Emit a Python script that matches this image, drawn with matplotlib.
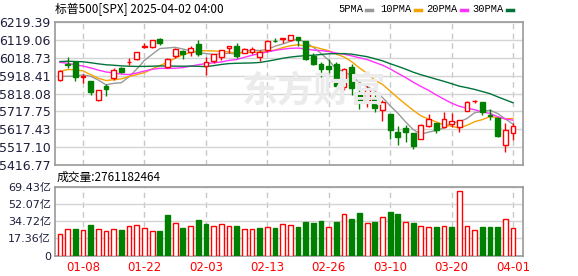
import numpy as np
import pandas as pd
import matplotlib
matplotlib.use("Agg")
import matplotlib.pyplot as plt

# trading days shown (Jan 3 .. Apr 1 2025)
dates = ["01-03", "01-06", "01-07", "01-08", "01-10", "01-13", "01-14", "01-15", "01-16", "01-17",
         "01-21", "01-22", "01-23", "01-24", "01-27", "01-28", "01-29", "01-30", "01-31", "02-03",
         "02-04", "02-05", "02-06", "02-07", "02-10", "02-11", "02-12", "02-13", "02-14", "02-18",
         "02-19", "02-20", "02-21", "02-24", "02-25", "02-26", "02-27", "02-28", "03-03", "03-04",
         "03-05", "03-06", "03-07", "03-10", "03-11", "03-12", "03-13", "03-14", "03-17", "03-18",
         "03-19", "03-20", "03-21", "03-24", "03-25", "03-26", "03-27", "03-28", "03-31", "04-01"]

open_ = [5891.07, 5982.81, 5993.26, 5910.66, 5890.66, 5782.52, 5859.40, 5905.21, 5961.24, 5995.00,
         6014.12, 6081.39, 6076.32, 6121.43, 5969.04, 6026.97, 6057.70, 6050.75, 6096.79, 5969.65,
         5998.14, 6020.45, 6072.22, 6083.13, 6046.40, 6049.32, 6025.08, 6060.62, 6115.52, 6121.60,
         6117.76, 6134.50, 6114.10, 6026.69, 5982.73, 5970.87, 5981.88, 5856.74, 5968.33, 5811.98,
         5781.88, 5785.87, 5726.01, 5705.37, 5603.65, 5624.84, 5594.45, 5563.85, 5635.60, 5654.53,
         5632.37, 5646.92, 5630.73, 5718.08, 5775.36, 5771.66, 5695.64, 5679.84, 5527.91, 5597.53]
high = [5949.34, 6021.04, 6000.68, 5927.89, 5890.66, 5837.47, 5871.92, 5960.61, 5964.69, 6014.96,
        6051.51, 6100.81, 6118.73, 6128.18, 6017.17, 6074.54, 6062.83, 6086.64, 6120.91, 6022.13,
        6042.48, 6062.86, 6084.03, 6101.28, 6073.38, 6076.28, 6063.36, 6116.91, 6127.47, 6129.63,
        6147.43, 6134.50, 6114.82, 6043.65, 5992.65, 6009.82, 5993.69, 5959.40, 5986.09, 5865.08,
        5860.59, 5812.08, 5783.01, 5705.37, 5636.30, 5642.19, 5597.78, 5645.27, 5703.52, 5654.53,
        5715.33, 5711.15, 5670.84, 5775.14, 5783.42, 5772.37, 5732.86, 5685.89, 5651.20, 5650.57]
low = [5888.66, 5960.01, 5890.68, 5874.78, 5809.47, 5773.31, 5805.48, 5894.84, 5930.99, 5978.44,
       6006.88, 6076.13, 6074.67, 6088.74, 5962.92, 6015.55, 6012.96, 6027.46, 6030.93, 5923.93,
       5990.87, 6007.06, 6046.83, 6017.79, 6044.84, 6042.34, 6003.00, 6050.95, 6107.62, 6099.51,
       6111.15, 6084.59, 6008.56, 5977.83, 5908.49, 5932.69, 5858.78, 5837.66, 5810.91, 5732.59,
       5742.35, 5711.64, 5666.29, 5564.02, 5528.41, 5546.09, 5504.65, 5563.85, 5631.12, 5597.76,
       5622.20, 5632.57, 5603.10, 5718.08, 5765.52, 5699.12, 5670.34, 5572.42, 5488.73, 5558.52]
close = [5942.47, 5975.38, 5909.03, 5918.25, 5827.04, 5836.22, 5842.91, 5949.91, 5937.34, 5996.66,
         6049.24, 6086.37, 6118.71, 6101.24, 6012.28, 6067.70, 6039.31, 6071.17, 6040.53, 5994.57,
         6037.88, 6061.48, 6083.57, 6025.99, 6066.44, 6068.50, 6051.97, 6115.07, 6114.63, 6129.58,
         6144.15, 6117.52, 6013.13, 5983.25, 5955.25, 5956.06, 5861.57, 5954.50, 5849.72, 5778.15,
         5842.63, 5738.52, 5770.20, 5614.56, 5572.07, 5599.30, 5521.52, 5638.94, 5675.12, 5614.66,
         5675.29, 5662.89, 5667.56, 5767.57, 5776.65, 5712.20, 5693.31, 5580.94, 5611.85, 5633.07]

# closes before the window, needed for the moving averages (Nov 20 .. Jan 2)
prior_close = [5917.11, 5948.71, 5969.34, 5987.37, 6021.63, 5998.74, 6032.38, 6047.15, 6049.88, 6086.49,
               6075.11, 6090.27, 6052.85, 6034.91, 6084.19, 6051.25, 6051.09, 6074.08, 6050.61, 5872.16,
               5867.08, 5930.85, 5974.07, 6040.04, 6037.59, 5970.84, 5906.94, 5881.63, 5868.55]

# volume in 亿
volume = [21.3, 27.0, 26.3, 25.3, 30.4, 27.0, 24.3, 27.0, 25.3, 29.4,
          30.4, 28.0, 24.3, 24.3, 40.5, 33.0, 28.0, 30.0, 35.4, 32.0,
          30.0, 31.4, 30.0, 29.4, 27.0, 27.0, 28.0, 29.0, 28.0, 32.0,
          30.5, 29.0, 33.4, 32.4, 34.4, 29.0, 33.4, 42.2, 36.4, 42.5,
          33.0, 33.4, 39.0, 43.5, 41.5, 34.0, 33.0, 30.0, 29.0, 29.0,
          30.0, 28.3, 64.4, 30.0, 26.0, 28.3, 28.3, 28.3, 37.0, 27.6]

price_ticks = [6219.39, 6119.06, 6018.73, 5918.41, 5818.08, 5717.75, 5617.43, 5517.10, 5416.77]
vol_ticks = [0, 17.36, 34.72, 52.07, 69.43]
vol_tick_labels = ["0", "17.36亿", "34.72亿", "52.07亿", "69.43亿"]
date_ticks = ["01-08", "01-22", "02-03", "02-13", "02-26", "03-10", "03-20", "04-01"]

ma_windows = [5, 10, 20, 30]
ma_names = ["5PMA", "10PMA", "20PMA", "30PMA"]
ma_colors = ["#999999", "#f5a300", "#ff33ff", "#00733a"]

RED = "#ff0000"
GREEN = "#008000"
GRID = "#d4d4d4"
FRAME = "#9a9a9a"
LABEL = "#1e1e3c"
CJK = ["Noto Sans CJK SC", "DejaVu Sans"]
NUM = ["DejaVu Sans", "Noto Sans CJK SC"]

x = np.arange(len(dates))
o = np.array(open_)
h = np.array(high)
l = np.array(low)
c = np.array(close)
all_close = pd.Series(prior_close + close)
prev_close = all_close.shift(1).values[len(prior_close):]

fig = plt.figure(figsize=(5.78, 2.76), dpi=100)
W, H = 578, 276


def add_ax(left, top, right, bottom):
    return fig.add_axes([left / W, 1 - bottom / H, (right - left) / W, (bottom - top) / H])


ax = add_ax(55, 22, 523, 165)
axv = add_ax(55, 186.5, 523, 255.5)
tick_pos = [dates.index(t) for t in date_ticks]

for a in (ax, axv):
    a.set_xlim(-0.65, len(dates) + 0.3)
    for s in a.spines.values():
        s.set_color(FRAME)
        s.set_linewidth(1.2)
    a.tick_params(length=0, pad=3)
    for tp in tick_pos:
        a.axvline(tp, color="#c8c8c8", lw=1, ls=(0, (4, 3)), zorder=0)

# watermark
fig.text(242 / W, 1 - 91 / H, "东方财富", family=CJK, fontsize=26, fontweight="bold",
         color="#ebebeb", ha="left", va="center", zorder=0)

# price panel
ax.set_ylim(price_ticks[-1], price_ticks[0])
ax.set_yticks(price_ticks)
ax.set_yticklabels([f"{v:.2f}" for v in price_ticks], family=NUM, fontsize=9, color=LABEL)
ax.set_xticks([])
for v in price_ticks:
    ax.axhline(v, color=GRID, lw=1, zorder=0)

up = c >= o
body_w = 0.62
ax.vlines(x, l, h, colors=np.where(up, RED, GREEN), lw=1, zorder=3)
body_low = np.minimum(o, c)
body_h = np.maximum(np.abs(c - o), 0.5)
ax.bar(x[up], body_h[up], body_w, bottom=body_low[up], facecolor="white",
       edgecolor=RED, lw=1, zorder=4)
ax.bar(x[~up], body_h[~up], body_w, bottom=body_low[~up], facecolor=GREEN,
       edgecolor=GREEN, lw=1, zorder=4)

for win, col in zip(ma_windows, ma_colors):
    ma = all_close.rolling(win).mean().values[len(prior_close):]
    ax.plot(x, ma, color=col, lw=1, zorder=2)

# volume panel
axv.set_ylim(0, vol_ticks[-1])
axv.set_yticks(vol_ticks)
axv.set_yticklabels(vol_tick_labels, family=NUM, fontsize=8, color=LABEL)
for v in vol_ticks[1:]:
    axv.axhline(v, color=GRID, lw=1, zorder=0)
axv.set_xticks(tick_pos)
axv.set_xticklabels(date_ticks, family=NUM, fontsize=8.5, color=RED)
axv.tick_params(axis="x", pad=4)

vol = np.array(volume)
vup = c >= prev_close
axv.bar(x[vup], vol[vup], 0.62, facecolor="white", edgecolor=RED, lw=1, zorder=3)
axv.bar(x[~vup], vol[~vup], 0.62, facecolor=GREEN, edgecolor=GREEN, lw=1, zorder=3)

# texts
fig.text(55 / W, 1 - 9 / H, "标普500[SPX] 2025-04-02 04:00", family=CJK, fontsize=8.5,
         color="#000000", ha="left", va="center")
fig.text(57 / W, 1 - 177.5 / H, "成交量:%d" % 2761182464, family=CJK, fontsize=8.5,
         color="#000000", ha="left", va="center")

leg_x = [338, 380, 426, 472]
for name, col, lx in zip(ma_names, ma_colors, leg_x):
    t = fig.text(lx / W, 1 - 9 / H, name, family="Liberation Mono", fontsize=7.5,
                 color="#000000", ha="left", va="center")
    width = 6.1 * len(name)
    fig.add_artist(plt.Line2D([(lx + width + 4) / W, (lx + width + 10) / W],
                              [1 - 9.5 / H, 1 - 9.5 / H], color=col, lw=2.5))

fig.savefig("out.png", dpi=100)
